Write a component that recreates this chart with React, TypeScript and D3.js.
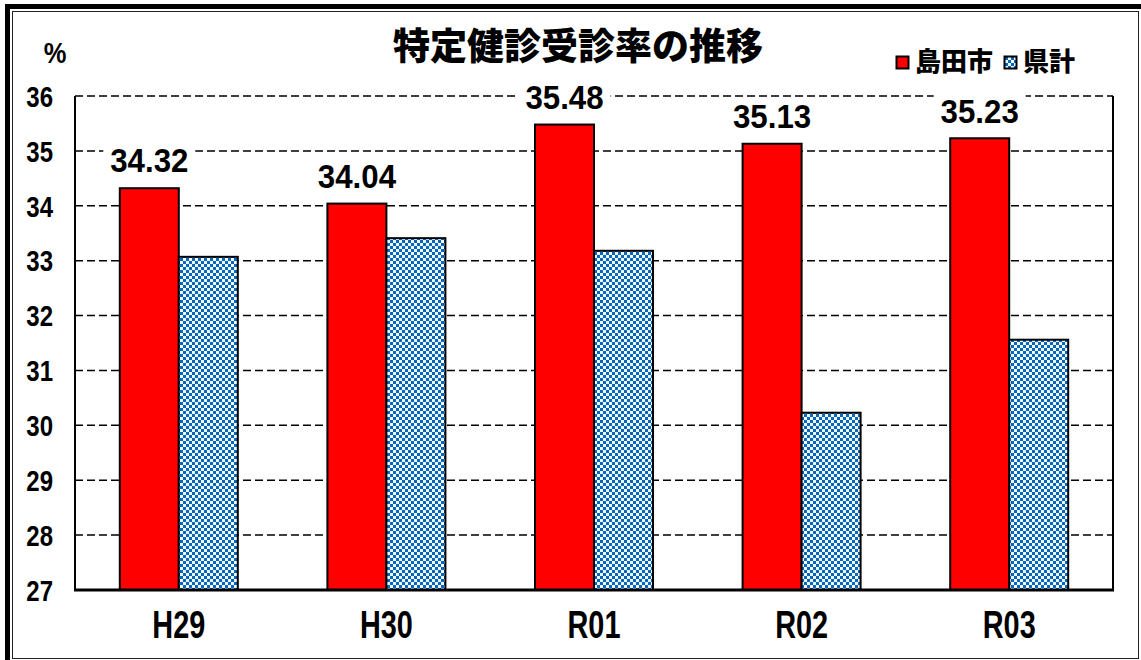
import { useEffect, useRef } from 'react';
import * as d3 from 'd3';

const categories = ['H29', 'H30', 'R01', 'R02', 'R03'];
const cityValues = [34.32, 34.04, 35.48, 35.13, 35.23];
const prefValues = [33.07, 33.41, 33.18, 30.23, 31.56];
const seriesNames = ['島田市', '県計'];
const yTicks = [27, 28, 29, 30, 31, 32, 33, 34, 35, 36];

const numFont = '"Liberation Sans", Arial, sans-serif';
const jpFont = '"Noto Sans CJK JP", "Noto Sans", sans-serif';

const App = () => {
  const svgRef = useRef<SVGSVGElement>(null);

  useEffect(() => {
    const W = 1141;
    const H = 660;
    const svg = d3.select(svgRef.current);
    svg.selectAll('*').remove();
    svg.attr('width', W).attr('height', H);

    // condensed bold text: size sets the height, sx squeezes it
    const label = (
      sel: d3.Selection<any, any, any, any>,
      tx: number, ty: number, txt: string, size: number, sx: number, anchor: string,
    ) => sel.append('text')
      .attr('transform', `translate(${tx},${ty}) scale(${sx},1)`)
      .attr('dy', '0.36em')
      .attr('text-anchor', anchor)
      .attr('font-family', numFont)
      .attr('font-weight', 'bold')
      .attr('font-size', size)
      .text(txt);

    // pattern for the prefecture series
    const defs = svg.append('defs');
    const pat = defs.append('pattern')
      .attr('id', 'checker')
      .attr('patternUnits', 'userSpaceOnUse')
      .attr('width', 6)
      .attr('height', 6);
    pat.append('rect').attr('width', 6).attr('height', 6).attr('fill', '#f4f8fc');
    pat.append('rect').attr('width', 3).attr('height', 3).attr('fill', '#0068bf');
    pat.append('rect').attr('x', 3).attr('y', 3).attr('width', 3).attr('height', 3).attr('fill', '#0068bf');

    // frame
    svg.append('rect').attr('width', W).attr('height', H).attr('fill', '#fff');
    svg.append('rect').attr('x', 5).attr('y', 4).attr('width', W - 5).attr('height', 5).attr('fill', '#000');
    svg.append('rect').attr('x', 5).attr('y', 4).attr('width', 5).attr('height', H - 4).attr('fill', '#000');
    svg.append('rect')
      .attr('x', 12.5).attr('y', 11.5)
      .attr('width', 1126).attr('height', 647)
      .attr('fill', 'none').attr('stroke', '#222').attr('stroke-width', 1);

    const left = 75;
    const right = 1113;
    const top = 96;
    const bottom = 590;

    const x = d3.scaleBand<string>().domain(categories).range([left, right]);
    const y = d3.scaleLinear().domain([27, 36]).range([bottom, top]);
    const barW = 59;

    // grid lines
    svg.append('g')
      .selectAll('line')
      .data(yTicks.filter(t => t > 27))
      .enter()
      .append('line')
      .attr('x1', left).attr('x2', right)
      .attr('y1', d => y(d)).attr('y2', d => y(d))
      .attr('stroke', '#000')
      .attr('stroke-width', 1.5)
      .attr('stroke-dasharray', '8,4');

    // bars
    const g = svg.append('g');
    categories.forEach((c, i) => {
      const cx = (x(c) as number) + x.bandwidth() / 2;
      g.append('rect')
        .attr('x', cx - barW)
        .attr('y', y(cityValues[i]))
        .attr('width', barW)
        .attr('height', bottom - y(cityValues[i]))
        .attr('fill', '#ff0000')
        .attr('stroke', '#000')
        .attr('stroke-width', 2);
      g.append('rect')
        .attr('x', cx)
        .attr('y', y(prefValues[i]))
        .attr('width', barW)
        .attr('height', bottom - y(prefValues[i]))
        .attr('fill', 'url(#checker)')
        .attr('stroke', '#000')
        .attr('stroke-width', 2);
    });

    // axes lines
    svg.append('line')
      .attr('x1', left).attr('x2', left).attr('y1', top).attr('y2', bottom)
      .attr('stroke', '#000').attr('stroke-width', 2);
    svg.append('line')
      .attr('x1', right).attr('x2', right).attr('y1', top).attr('y2', bottom)
      .attr('stroke', '#000').attr('stroke-width', 2);
    svg.append('line')
      .attr('x1', left - 1).attr('x2', right + 1).attr('y1', bottom).attr('y2', bottom)
      .attr('stroke', '#000').attr('stroke-width', 3);

    // value labels with white background
    categories.forEach((c, i) => {
      const cx = (x(c) as number) + x.bandwidth() / 2 - barW / 2;
      const ty = y(cityValues[i]) - 28;
      svg.append('rect')
        .attr('x', cx - 46).attr('y', ty - 18)
        .attr('width', 92).attr('height', 36)
        .attr('fill', '#fff');
      label(svg, cx, ty, cityValues[i].toFixed(2), 34, 0.92, 'middle');
    });

    // y tick labels
    yTicks.forEach(t => label(svg, 53, y(t), String(t), 30, 0.8, 'end'));
    label(svg, 55, 52, '%', 30, 0.85, 'middle');

    // x labels
    categories.forEach(c =>
      label(svg, (x(c) as number) + x.bandwidth() / 2, 624, c, 38, 0.76, 'middle'));

    // title
    svg.append('text')
      .attr('x', 578).attr('y', 47)
      .attr('dy', '0.36em')
      .attr('text-anchor', 'middle')
      .attr('font-family', jpFont)
      .attr('font-weight', 900)
      .attr('font-size', 37)
      .text('特定健診受診率の推移');

    // legend
    const legend = [
      { name: seriesNames[0], fill: '#ff0000', x: 896 },
      { name: seriesNames[1], fill: 'url(#checker)', x: 1004 },
    ];
    legend.forEach(l => {
      svg.append('rect')
        .attr('x', l.x + 0.5).attr('y', 56.5)
        .attr('width', 12).attr('height', 12)
        .attr('fill', l.fill)
        .attr('stroke', '#000').attr('stroke-width', 2);
      svg.append('text')
        .attr('x', l.x + 19).attr('y', 62)
        .attr('dy', '0.36em')
        .attr('font-family', jpFont)
        .attr('font-weight', 900)
        .attr('font-size', 26)
        .text(l.name);
    });
  }, []);

  return (
    <div style={{ position: 'absolute', left: 0, top: 0 }}>
      <svg ref={svgRef}></svg>
    </div>
  );
};

export default App;
